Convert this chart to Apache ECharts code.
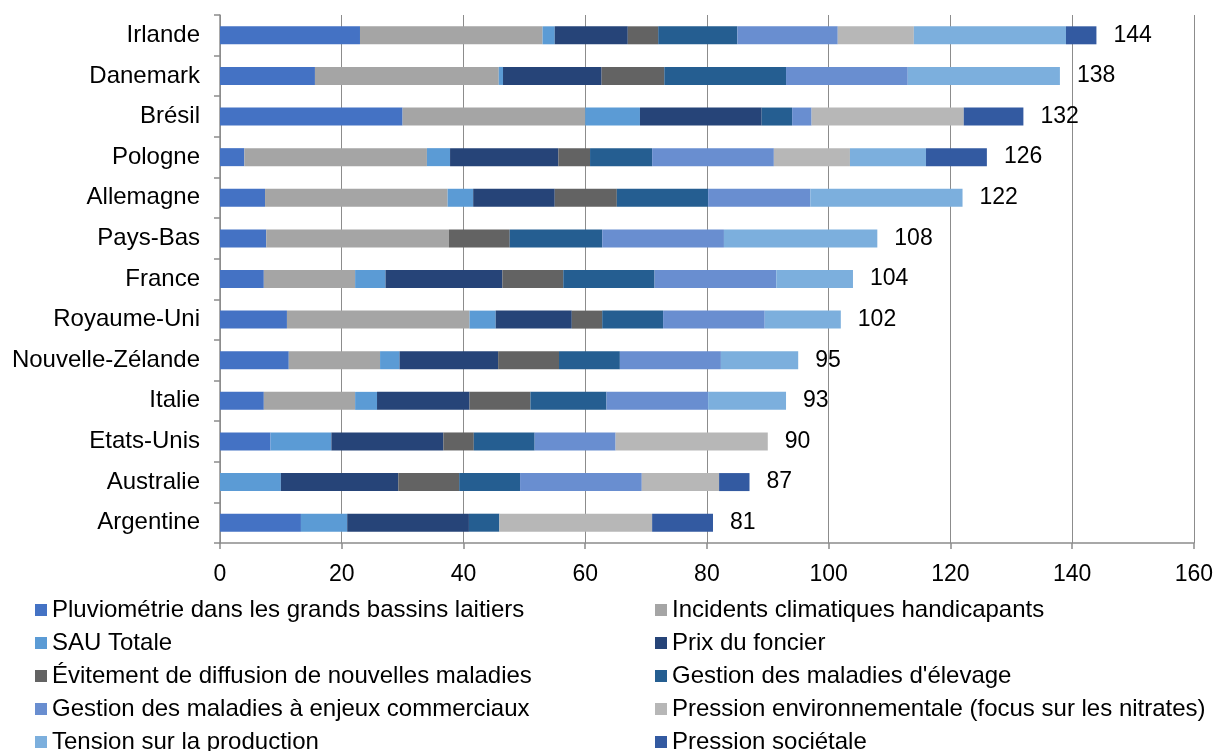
<!DOCTYPE html>
<html lang="fr">
<head>
<meta charset="utf-8">
<title>Facteurs par pays</title>
<script src="https://cdn.jsdelivr.net/npm/echarts@6/dist/echarts.min.js"></script>
<style>
  html, body { margin: 0; padding: 0; background: #ffffff; }
  #chart { width: 1216px; height: 751px; }
</style>
</head>
<body>
<div id="chart"></div>
<script>
// Pays (de haut en bas)
const categories = ['Irlande', 'Danemark', 'Brésil', 'Pologne', 'Allemagne', 'Pays-Bas', 'France',
  'Royaume-Uni', 'Nouvelle-Zélande', 'Italie', 'Etats-Unis', 'Australie', 'Argentine'];

// Valeurs de chaque critère, dans l'ordre des pays
const pluviometrie = [23, 15.6, 30, 4, 7.4, 7.6, 7.2, 11, 11.3, 7.2, 8.3, 0, 13.3];
const incidentsClimatiques = [30, 30.2, 30, 30, 30, 30, 15, 30, 15, 15, 0, 0, 0];
const sauTotale = [2, 0.7, 9, 3.8, 4.2, 0, 5, 4.3, 3.2, 3.6, 10, 10, 7.6];
const prixFoncier = [12, 16.2, 20, 17.8, 13.4, 0, 19.2, 12.5, 16.2, 15.2, 18.4, 19.3, 20];
const evitementMaladies = [5, 10.3, 0, 5.2, 10.2, 10, 10, 5, 10, 10, 5, 10, 0];
const gestionElevage = [13, 20, 5, 10.2, 15, 15.2, 15, 10, 10, 12.5, 10, 10, 5];
const gestionCommerciaux = [16.5, 20, 3.2, 20, 16.8, 20, 20, 16.7, 16.6, 16.7, 13.3, 20, 0];
const pressionEnvironnementale = [12.5, 0, 25, 12.5, 0, 0, 0, 0, 0, 0, 25, 12.7, 25.1];
const tensionProduction = [25, 25, 0, 12.5, 25, 25.2, 12.6, 12.5, 12.7, 12.8, 0, 0, 0];
const pressionSocietale = [5, 0, 9.8, 10, 0, 0, 0, 0, 0, 0, 0, 5, 10];

const xTicks = { min: 0, max: 160, interval: 20 };

const seriesDefs = [
  { name: 'Pluviométrie dans les grands bassins laitiers', data: pluviometrie, color: '#4472C4' },
  { name: 'Incidents climatiques handicapants', data: incidentsClimatiques, color: '#A5A5A5' },
  { name: 'SAU Totale', data: sauTotale, color: '#5B9BD5' },
  { name: 'Prix du foncier', data: prixFoncier, color: '#264478' },
  { name: 'Évitement de diffusion de nouvelles maladies', data: evitementMaladies, color: '#636363' },
  { name: "Gestion des maladies d'élevage", data: gestionElevage, color: '#255E91' },
  { name: 'Gestion des maladies à enjeux commerciaux', data: gestionCommerciaux, color: '#698ED0' },
  { name: 'Pression environnementale (focus sur les nitrates)', data: pressionEnvironnementale, color: '#B7B7B7' },
  { name: 'Tension sur la production', data: tensionProduction, color: '#7CAFDD' },
  { name: 'Pression sociétale', data: pressionSocietale, color: '#335AA1' }
];

// Total de chaque barre, affiché au bout de la pile
const totals = categories.map((_, i) =>
  Math.round(seriesDefs.reduce((s, d) => s + d.data[i], 0)));

const FONT = "'Liberation Sans', Arial, sans-serif";
const GRID_COLOR = '#8C8C8C';

const series = seriesDefs.map(d => ({
  name: d.name,
  type: 'bar',
  stack: 'total',
  barWidth: 18,
  data: d.data,
  itemStyle: { color: d.color },
  emphasis: { disabled: true }
}));

// Zero-width stacked series carrying the total labels at the end of each bar
series.push({
  name: '__total',
  type: 'bar',
  stack: 'total',
  barWidth: 18,
  data: categories.map(() => 0),
  itemStyle: { color: 'transparent' },
  label: {
    show: true,
    position: 'right',
    distance: 17,
    fontFamily: FONT,
    fontSize: 23,
    color: '#000',
    formatter: p => String(totals[p.dataIndex])
  },
  emphasis: { disabled: true }
});

const legendCol1 = [0, 2, 4, 6, 8].map(i => seriesDefs[i].name);
const legendCol2 = [1, 3, 5, 7, 9].map(i => seriesDefs[i].name);

const legendBase = {
  orient: 'vertical',
  top: 598,
  height: 220,
  padding: 0,
  icon: 'rect',
  itemWidth: 12,
  itemHeight: 12,
  itemGap: 9,
  selectedMode: false,
  textStyle: { fontFamily: FONT, fontSize: 24, lineHeight: 24, color: '#000' }
};

const chart = echarts.init(document.getElementById('chart'), null, { renderer: 'canvas' });
chart.setOption({
  animation: false,
  color: seriesDefs.map(d => d.color),
  grid: { left: 220, right: 21, top: 15, bottom: 208, containLabel: false },
  legend: [
    Object.assign({}, legendBase, { left: 35, data: legendCol1 }),
    Object.assign({}, legendBase, { left: 655, data: legendCol2 })
  ],
  xAxis: {
    type: 'value',
    min: xTicks.min,
    max: xTicks.max,
    interval: xTicks.interval,
    axisLine: { show: true, lineStyle: { color: GRID_COLOR, width: 1.5 } },
    axisTick: { show: true, length: 6, lineStyle: { color: GRID_COLOR, width: 1.5 } },
    splitLine: { show: true, lineStyle: { color: GRID_COLOR, width: 1 } },
    axisLabel: { margin: 20, fontFamily: FONT, fontSize: 23, color: '#000' }
  },
  yAxis: {
    type: 'category',
    inverse: true,
    data: categories,
    axisLine: { show: true, lineStyle: { color: GRID_COLOR, width: 1.5 } },
    axisTick: { show: true, length: 6, lineStyle: { color: GRID_COLOR, width: 1.5 } },
    axisLabel: { margin: 20, fontFamily: FONT, fontSize: 24, color: '#000' }
  },
  series: series
});
</script>
</body>
</html>
